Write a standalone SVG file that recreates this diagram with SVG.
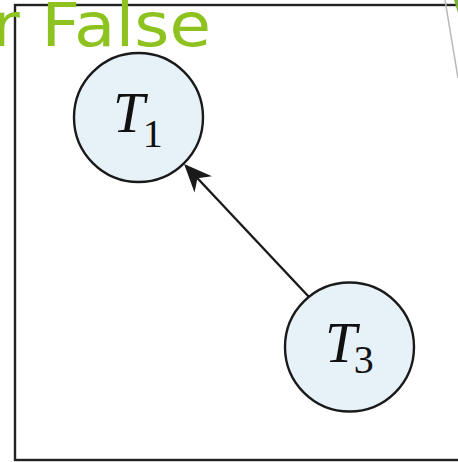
<svg xmlns="http://www.w3.org/2000/svg" width="458" height="462" viewBox="0 0 458 462">
<style>
.node circle{fill:#E7F2F8;stroke:#1a1a1a;stroke-width:2.4}
.lbl{font-family:"Liberation Serif","Times New Roman",serif;fill:#111}
.it{font-style:italic}
.edge{stroke:#1a1a1a;stroke-width:2.4;fill:none}
</style>
<defs>
<marker id="arr" viewBox="0 0 10 10" refX="9" refY="5" markerWidth="28" markerHeight="24" markerUnits="userSpaceOnUse" orient="auto" preserveAspectRatio="none">
<path d="M0,0 L10,5 L0,10 L3,5 Z" fill="#1a1a1a"/>
</marker>
</defs>
<rect width="458" height="462" fill="#fff"/>
<rect x="15" y="5" width="470" height="455" fill="none" stroke="#222" stroke-width="2.4"/>
<line x1="445" y1="0" x2="458" y2="78" stroke="#b8b8b8" stroke-width="1.5"/>
<polygon points="454,0 458,0 458,13" fill="#7ab03a"/>
<text x="-8" y="46" font-family="'DejaVu Sans',sans-serif" font-size="60" fill="#8DC21F" textLength="219" lengthAdjust="spacingAndGlyphs">r False</text>
<g id="connectors">
<line class="edge" x1="309" y1="297" x2="186" y2="166" marker-end="url(#arr)"/>
</g>
<g id="T1" class="node">
<circle cx="138.5" cy="117.5" r="64.5"/>
<text class="lbl" x="113" y="132" font-size="57"><tspan class="it">T</tspan><tspan font-size="40" dy="15" dx="-2">1</tspan></text>
</g>
<g id="T3" class="node">
<circle cx="349.5" cy="347" r="64.5"/>
<text class="lbl" x="325" y="362" font-size="57"><tspan class="it">T</tspan><tspan font-size="40" dy="11" dx="-3">3</tspan></text>
</g>
</svg>
